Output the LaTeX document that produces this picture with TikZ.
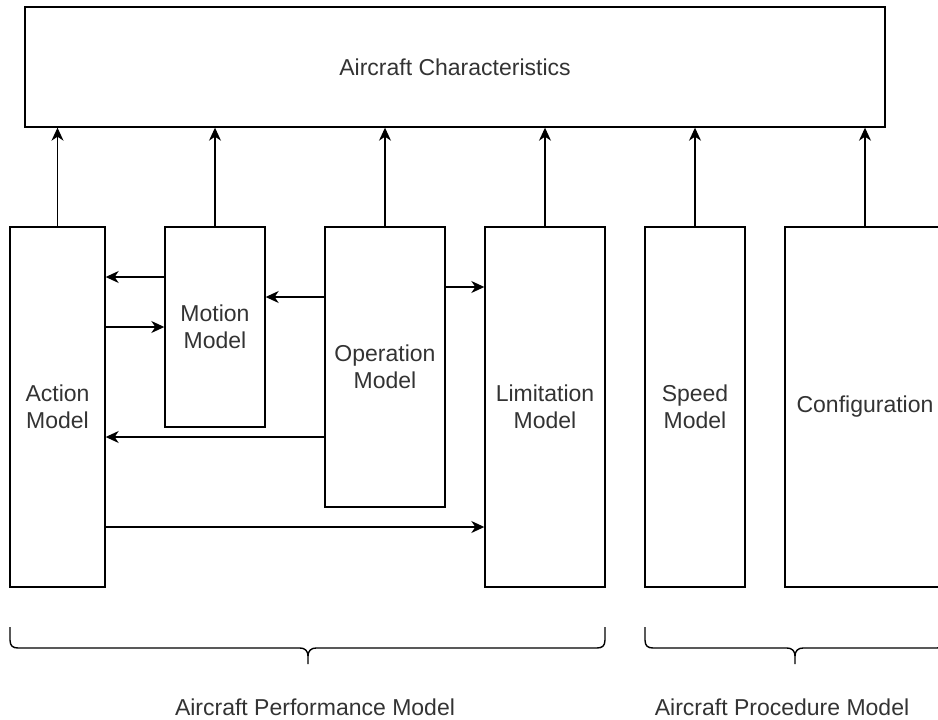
\documentclass[tikz,border=0pt]{standalone}
\usepackage{fontspec}
\setmainfont{Liberation Sans}
\usetikzlibrary{arrows.meta}
\definecolor{textgray}{RGB}{51,51,51}
\begin{document}
\begin{tikzpicture}[x=1pt,y=-1pt,
  box/.style={draw=black, line width=1.4pt, fill=white, inner sep=0pt,
    align=center, text=textgray, font=\fontsize{23}{27}\selectfont},
  arr/.style={line width=1.4pt, -{Stealth[length=13pt,width=12pt,inset=4pt]}},
  brace/.style={line width=1.4pt, line join=round},
  caption/.style={text=textgray, font=\fontsize{23}{27}\selectfont, inner sep=0pt}]
\useasboundingbox (0,0) rectangle (938,720);

% top block
\node[box, minimum width=860, minimum height=120] (top) at (455,67) {Aircraft Characteristics};

% model blocks
\node[box, minimum width=95,  minimum height=360] (act) at (57.5,407) {Action\\Model};
\node[box, minimum width=100, minimum height=200] (mot) at (215,327)  {Motion\\Model};
\node[box, minimum width=120, minimum height=280] (opr) at (385,367)  {Operation\\Model};
\node[box, minimum width=120, minimum height=360] (lim) at (545,407)  {Limitation\\Model};
\node[box, minimum width=100, minimum height=360] (spd) at (695,407)  {Speed\\Model};
\node[box, minimum width=160, minimum height=360] (cfg) at (865,407)  {Configuration};

% upward links to the characteristics block
\foreach \n in {act,mot,opr,lim,spd,cfg}
  \draw[arr] (\n.north) -- (\n.north |- top.south);

% links between the performance models
\draw[arr] (mot.west |- 0,277) -- (act.east |- 0,277);
\draw[arr] (act.east |- 0,327) -- (mot.west |- 0,327);
\draw[arr] (opr.west |- 0,297) -- (mot.east |- 0,297);
\draw[arr] (opr.east |- 0,287) -- (lim.west |- 0,287);
\draw[arr] (opr.west |- 0,437) -- (act.east |- 0,437);
\draw[arr] (act.east |- 0,527) -- (lim.west |- 0,527);

% braces
\draw[brace] (10,627) -- (10,640) .. controls (10,646) and (13,648) .. (18,648)
  -- (300,648) .. controls (305,648) and (308,651) .. (308,656) -- (308,664);
\draw[brace] (605,627) -- (605,640) .. controls (605,646) and (602,648) .. (597,648)
  -- (316,648) .. controls (311,648) and (308,651) .. (308,656);
\draw[brace] (645,627) -- (645,640) .. controls (645,646) and (648,648) .. (653,648)
  -- (787,648) .. controls (792,648) and (795,651) .. (795,656) -- (795,664);
\draw[brace] (945,627) -- (945,640) .. controls (945,646) and (942,648) .. (937,648)
  -- (803,648) .. controls (798,648) and (795,651) .. (795,656);

% group captions
\node[caption] (perf) at (315,707) {Aircraft Performance Model};
\node[caption] (proc) at (782,707) {Aircraft Procedure Model};
\end{tikzpicture}
\end{document}
